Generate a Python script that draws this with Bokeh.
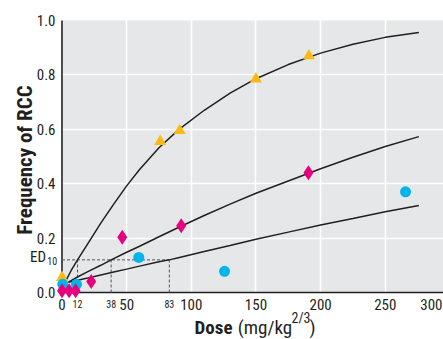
import math
from bokeh.plotting import figure
from bokeh.models import Range1d, FixedTicker, BoxAnnotation, Label, Grid
from bokeh.embed import file_html
from bokeh.resources import INLINE

# ---------------- data ----------------
x_ticks = [0, 50, 100, 150, 200, 250]
x_last_tick = "300"
y_ticks = [0.0, 0.2, 0.4, 0.6, 0.8, 1.0]

tri_dose = [0, 76, 91, 150, 191]
tri_freq = [0.055, 0.555, 0.595, 0.785, 0.870]

dia_dose = [0, 5.5, 10.5, 22.6, 46.6, 92.2, 190.6]
dia_freq = [0.006, 0.006, 0.006, 0.040, 0.203, 0.245, 0.440]

cir_dose = [0.6, 11.2, 59.4, 125.7, 265.7]
cir_freq = [0.030, 0.030, 0.129, 0.078, 0.370]

top_dose = [3, 7, 12, 20, 30, 40, 50, 60, 75, 90, 110, 130, 150, 175, 200, 225, 250, 276]
top_freq = [0.044, 0.080, 0.120, 0.180, 0.255, 0.325, 0.392, 0.452, 0.532, 0.598,
            0.670, 0.733, 0.786, 0.838, 0.880, 0.913, 0.938, 0.956]

mid_dose = [5, 12, 20, 30, 38, 50, 60, 75, 90, 110, 130, 150, 175, 200, 225, 250, 276]
mid_freq = [0.038, 0.057, 0.077, 0.100, 0.120, 0.148, 0.170, 0.205, 0.239, 0.283,
            0.325, 0.365, 0.410, 0.455, 0.497, 0.537, 0.573]

bot_dose = [5, 12, 20, 30, 40, 50, 60, 75, 83, 90, 110, 130, 150, 175, 200, 225, 250, 276]
bot_freq = [0.038, 0.045, 0.053, 0.064, 0.075, 0.086, 0.097, 0.113, 0.120, 0.128,
            0.151, 0.173, 0.196, 0.222, 0.248, 0.272, 0.297, 0.320]

ed10_level = 0.12
ed10_doses = [12, 38, 83]

# ---------------- styles / layout ----------------
FONT = "'Liberation Sans Narrow', 'Roboto Condensed', 'DejaVu Sans Condensed', sans-serif"
TXT = "#231f20"
ORANGE = "#fdb913"
MAGENTA = "#e6007e"
CYAN = "#00b5ec"
BG = "#e6e7e8"

W, H = 443, 339
PX_X, PX_Y = 1.293, 272.0        # pixels per data unit
ORIG_X, ORIG_Y = 61.5, 292.0      # pixel position of (0, 0) from top-left
X_LO, X_HI = -ORIG_X / PX_X, (W - ORIG_X) / PX_X
Y_LO, Y_HI = -(H - ORIG_Y) / PX_Y, ORIG_Y / PX_Y

p = figure(width=W, height=H, output_backend="svg", toolbar_location=None,
           x_range=Range1d(X_LO, X_HI), y_range=Range1d(Y_LO, Y_HI),
           x_axis_type=None, y_axis_type=None, min_border=0)
p.background_fill_color = "white"
p.border_fill_color = "white"
p.outline_line_color = None

# plot area background
p.add_layout(BoxAnnotation(left=0, bottom=0, top=y_ticks[-1], fill_color=BG, fill_alpha=1,
                           line_alpha=0, level="underlay"))
# grid lines
p.add_layout(Grid(dimension=0, ticker=FixedTicker(ticks=x_ticks[1:]),
                  grid_line_color="white", grid_line_width=1.5))
p.add_layout(Grid(dimension=1, ticker=FixedTicker(ticks=y_ticks[1:-1]),
                  grid_line_color="white", grid_line_width=1.5))

# axis lines
p.segment([0], [0], [0], [y_ticks[-1]], line_color="#4d4d4f", line_width=2)
p.segment([0], [0], [X_HI], [0], line_color=TXT, line_width=1.5)

# ED10 dashed guides
sx0 = [0] + ed10_doses
sx1 = [max(ed10_doses)] + ed10_doses
sy0 = [ed10_level] + [0] * len(ed10_doses)
sy1 = [ed10_level] * (len(ed10_doses) + 1)
p.segment(sx0, sy0, sx1, sy1, line_color="#555555", line_width=1, line_dash="3 2")

# fitted curves
for xs, ys in ((top_dose, top_freq), (mid_dose, mid_freq), (bot_dose, bot_freq)):
    p.line(xs, ys, line_color=TXT, line_width=1.5)

# data points
p.scatter(tri_dose, tri_freq, marker="triangle", size=12, fill_color=ORANGE, line_color=None)
p.scatter(cir_dose, cir_freq, marker="circle", size=11, fill_color=CYAN, line_color=None)
p.scatter(dia_dose, dia_freq, marker="diamond", size=15, fill_color=MAGENTA, line_color=None)


def lab(x, y, text, size, align="left", baseline="alphabetic", dx=0, dy=0, bold=False, angle=0):
    p.add_layout(Label(x=x, y=y, text=text, text_align=align, text_baseline=baseline,
                       x_offset=dx, y_offset=dy, angle=angle, text_font=FONT,
                       text_font_size=f"{size}px", text_color=TXT,
                       text_font_style="bold" if bold else "normal"))


# y tick labels
for t in y_ticks:
    lab(0, t, f"{t:.1f}", 15, align="right", baseline="middle", dx=-6.5)
# x tick labels
for t in x_ticks:
    lab(t, 0, str(t), 15, align="center", dy=-11.5)
lab(X_HI, 0, x_last_tick, 15, align="right", dx=-1, dy=-11.5)
# small ED10 dose labels
for d in ed10_doses:
    lab(d, 0, str(d), 10, align="center", dy=-11)
# ED10 label on y axis
lab(0, ed10_level, "ED", 15, align="right", dx=-16, dy=3)
lab(0, ed10_level, "10", 10, align="left", dx=-14.8, dy=-1.6)

# y axis title
lab(0, 0.5, "Frequency of RCC", 21, align="center", baseline="middle", dx=-37.5, dy=-3.5,
    bold=True, angle=math.pi / 2)

# x axis title: Dose (mg/kg^2/3)
lab(0, 0, "Dose", 19, align="right", dx=170.5, dy=-35, bold=True)
lab(0, 0, "(mg/kg", 19, dx=175.8, dy=-35)
lab(0, 0, "2/3", 14, dx=229.5, dy=-25)
lab(0, 0, ")", 19, dx=247.5, dy=-35)

open("out.html", "w").write(file_html(p, INLINE))
